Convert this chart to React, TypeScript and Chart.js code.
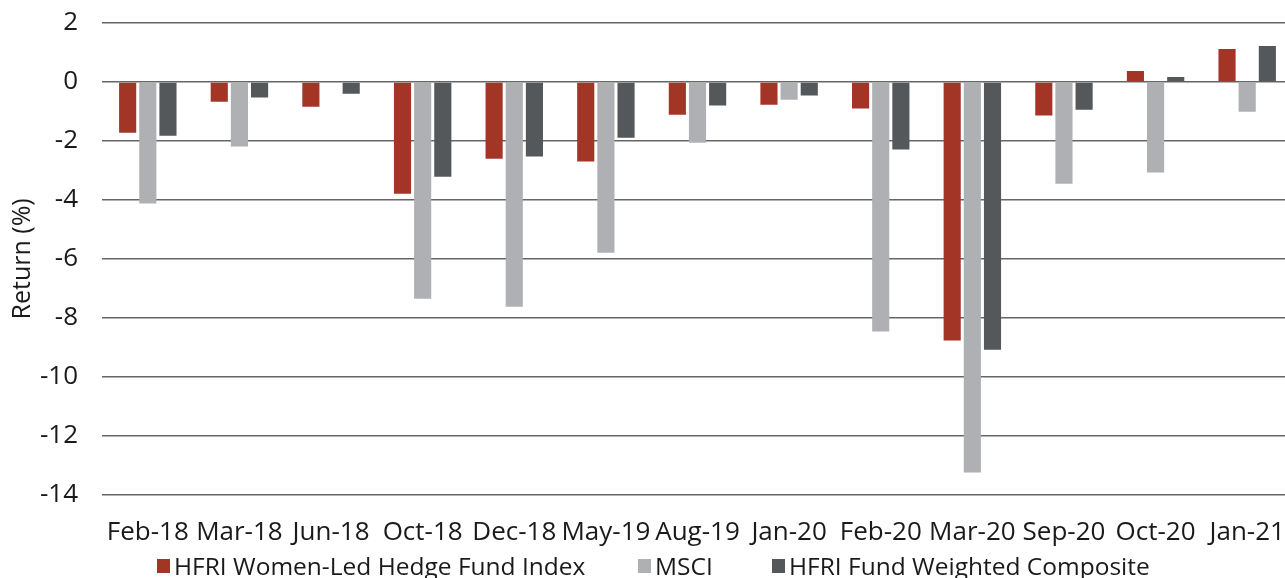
import React, { useEffect, useRef } from "react";
import { Chart, registerables } from "chart.js";

Chart.register(...registerables);

const categories = ["Feb-18", "Mar-18", "Jun-18", "Oct-18", "Dec-18", "May-19", "Aug-19", "Jan-20", "Feb-20", "Mar-20", "Sep-20", "Oct-20", "Jan-21"];
const womenLed = [-1.72, -0.67, -0.84, -3.79, -2.6, -2.7, -1.11, -0.77, -0.9, -8.77, -1.14, 0.37, 1.12];
const msci = [-4.12, -2.19, -0.03, -7.35, -7.62, -5.79, -2.06, -0.6, -8.46, -13.24, -3.45, -3.07, -1.01];
const composite = [-1.82, -0.53, -0.4, -3.21, -2.53, -1.89, -0.8, -0.46, -2.29, -9.08, -0.94, 0.17, 1.22];
const seriesNames = ["HFRI Women-Led Hedge Fund Index", "MSCI", "HFRI Fund Weighted Composite"];
const seriesColors = ["#A33527", "#AFB0B3", "#54585B"];
const yTicks = [2, 0, -2, -4, -6, -8, -10, -12, -14];
const legendLeft = [157, 638, 772];

const FONT = "'Open Sans', 'Noto Sans', sans-serif";

export default function App() {
  const ref = useRef<HTMLCanvasElement | null>(null);

  useEffect(() => {
    document.body.style.margin = "0";
    const ctx = ref.current!.getContext("2d")!;
    const chart = new Chart(ctx, {
      type: "bar",
      data: {
        labels: categories,
        datasets: [womenLed, msci, composite].map((d, i) => ({
          label: seriesNames[i],
          data: d,
          backgroundColor: seriesColors[i],
          borderWidth: 0,
          categoryPercentage: 0.66,
          barPercentage: 0.85,
        })),
      },
      options: {
        animation: false,
        responsive: false,
        maintainAspectRatio: false,
        layout: { padding: { top: 23, right: 0, bottom: 16, left: 8 } },
        plugins: { legend: { display: false }, tooltip: { enabled: false } },
        scales: {
          x: {
            grid: { display: false },
            border: { display: false },
            afterFit: (axis: any) => {
              axis.paddingLeft = 0;
              axis.paddingRight = 0;
            },
            ticks: {
              autoSkip: false,
              maxRotation: 0,
              color: "#1a1a1a",
              font: { family: FONT, size: 26, lineHeight: 1.2 },
              padding: 14,
            },
          },
          y: {
            min: -14,
            max: 2,
            afterBuildTicks: (axis: any) => {
              axis.ticks = yTicks.map((v) => ({ value: v }));
            },
            afterFit: (axis: any) => {
              axis.width = 94;
              axis.paddingTop = 0;
              axis.paddingBottom = 0;
            },
            grid: { color: "#666666", lineWidth: 1.5, drawTicks: false },
            border: { display: false },
            ticks: {
              color: "#1a1a1a",
              font: { family: FONT, size: 26, lineHeight: 1.2 },
              padding: 24,
            },
            title: {
              display: true,
              text: "Return (%)",
              color: "#1a1a1a",
              font: { family: FONT, size: 25 },
              padding: { top: 0, bottom: 0 },
            },
          },
        },
      },
    });
    return () => chart.destroy();
  }, []);

  return (
    <div style={{ position: "relative", width: 1285, height: 578, background: "#fff", overflow: "hidden" }}>
      <canvas ref={ref} width={1293} height={578} style={{ display: "block" }} />
      {seriesNames.map((n, i) => (
        <div
          key={n}
          style={{
            position: "absolute",
            left: legendLeft[i],
            top: 551,
            display: "flex",
            alignItems: "center",
            fontFamily: FONT,
            fontSize: 24.5,
            color: "#1a1a1a",
            whiteSpace: "nowrap",
            lineHeight: "30px",
          }}
        >
          <span style={{ display: "inline-block", width: 13, height: 14, background: seriesColors[i], marginRight: 4 }} />
          <span>{n}</span>
        </div>
      ))}
    </div>
  );
}
